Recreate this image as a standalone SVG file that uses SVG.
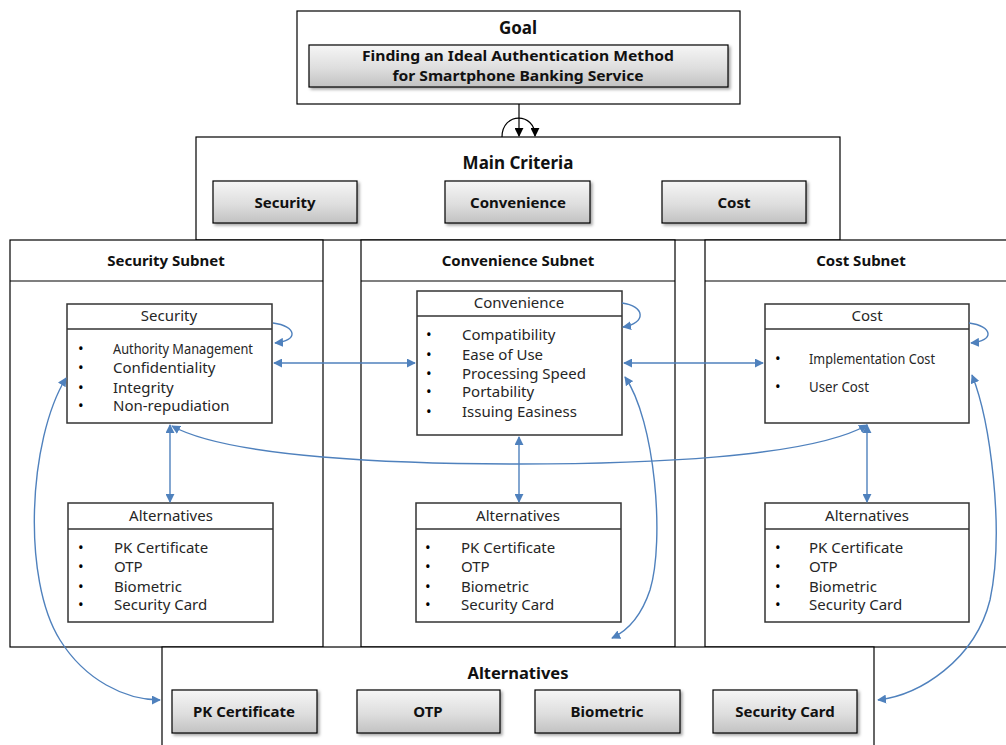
<svg xmlns="http://www.w3.org/2000/svg" width="1006" height="745" viewBox="0 0 1006 745">
<defs>
<linearGradient id="g" x1="0" y1="0" x2="0" y2="1">
<stop offset="0" stop-color="#f6f6f6"/><stop offset="0.55" stop-color="#dedede"/><stop offset="1" stop-color="#c2c2c2"/>
</linearGradient>
<filter id="sh" x="-10%" y="-10%" width="125%" height="140%">
<feDropShadow dx="2" dy="2" stdDeviation="1.5" flood-color="#000" flood-opacity="0.35"/>
</filter>
<marker id="ab" viewBox="0 0 10 10" refX="9" refY="5" markerWidth="9" markerHeight="9" markerUnits="userSpaceOnUse" orient="auto-start-reverse">
<path d="M0,0 L10,5 L0,10 z" fill="#4F81BD"/>
</marker>
<marker id="ak" viewBox="0 0 10 10" refX="9" refY="5" markerWidth="9" markerHeight="9" markerUnits="userSpaceOnUse" orient="auto">
<path d="M0,0 L10,5 L0,10 z" fill="#000"/>
</marker>
</defs>
<style>
.frame{fill:#fff;stroke:#000;stroke-width:1.2}
.gbox{fill:url(#g);stroke:#000;stroke-width:1.2;filter:url(#sh)}
.ibox{fill:#fff;stroke:#333;stroke-width:1.5}
.ln{stroke:#000;stroke-width:1.2}
.lns{stroke:#333;stroke-width:1.5}
.bt{font-family:"Noto Sans","Open Sans",sans-serif;font-weight:bold;fill:#111;text-anchor:middle}
.it{font-family:"Noto Sans","Open Sans",sans-serif;font-size:15px;fill:#262626}
.hd{font-family:"Noto Sans","Open Sans",sans-serif;font-size:15px;fill:#262626;text-anchor:middle}
.bl{font-family:"Noto Sans",sans-serif;font-size:15px;fill:#000}
.bc{fill:none;stroke:#4F81BD;stroke-width:1.4;marker-start:url(#ab);marker-end:url(#ab)}
.bc1{fill:none;stroke:#4F81BD;stroke-width:1.4;marker-end:url(#ab)}
.kc{fill:none;stroke:#000;stroke-width:1.2;marker-end:url(#ak)}
</style>

<g id="goal">
<rect class="frame" x="297" y="11" width="443" height="93"/>
<text class="bt" x="518" y="34" font-size="17">Goal</text>
<rect class="gbox" x="309" y="45" width="419" height="42"/>
<text class="bt" x="518" y="61" font-size="15" textLength="312" lengthAdjust="spacingAndGlyphs">Finding an Ideal Authentication  Method</text>
<text class="bt" x="518" y="81" font-size="15" textLength="251" lengthAdjust="spacingAndGlyphs">for Smartphone  Banking  Service</text>
</g>

<g id="main-criteria">
<rect class="frame" x="196" y="137" width="644" height="103"/>
<text class="bt" x="518" y="169" font-size="17">Main Criteria</text>
<rect class="gbox" x="213" y="181" width="144" height="42"/>
<text class="bt" x="285" y="208" font-size="15">Security</text>
<rect class="gbox" x="445" y="181" width="145" height="42"/>
<text class="bt" x="518" y="208" font-size="15">Convenience</text>
<rect class="gbox" x="662" y="181" width="144" height="42"/>
<text class="bt" x="734" y="208" font-size="15">Cost</text>
</g>

<g id="security-subnet">
<rect class="frame" x="10" y="240" width="313" height="407"/>
<line class="ln" x1="10" y1="281" x2="323" y2="281"/>
<text class="bt" x="166" y="266" font-size="15">Security  Subnet</text>
</g>
<g id="convenience-subnet">
<rect class="frame" x="361" y="240" width="314" height="407"/>
<line class="ln" x1="361" y1="281" x2="675" y2="281"/>
<text class="bt" x="518" y="266" font-size="15">Convenience  Subnet</text>
</g>
<g id="cost-subnet">
<rect class="frame" x="705" y="240" width="310" height="407"/>
<line class="ln" x1="705" y1="281" x2="1006" y2="281"/>
<text class="bt" x="861" y="266" font-size="15">Cost Subnet</text>
</g>

<g id="security-criteria">
<rect class="ibox" x="67" y="304" width="205" height="119"/>
<line class="lns" x1="67" y1="329" x2="272" y2="329"/>
<text class="hd" x="169" y="321">Security</text>
<text class="bl" x="78" y="354">•</text><text class="it" x="113" y="354" textLength="140" lengthAdjust="spacingAndGlyphs">Authority Management</text>
<text class="bl" x="78" y="373">•</text><text class="it" x="113" y="373">Confidentiality</text>
<text class="bl" x="78" y="393">•</text><text class="it" x="113" y="393">Integrity</text>
<text class="bl" x="78" y="411">•</text><text class="it" x="113" y="411">Non-repudiation</text>
</g>

<g id="convenience-criteria">
<rect class="ibox" x="417" y="291" width="205" height="144"/>
<line class="lns" x1="417" y1="316" x2="622" y2="316"/>
<text class="hd" x="519" y="308">Convenience</text>
<text class="bl" x="426" y="340">•</text><text class="it" x="462" y="340">Compatibility</text>
<text class="bl" x="426" y="360">•</text><text class="it" x="462" y="360">Ease of Use</text>
<text class="bl" x="426" y="379">•</text><text class="it" x="462" y="379">Processing Speed</text>
<text class="bl" x="426" y="397">•</text><text class="it" x="462" y="397">Portability</text>
<text class="bl" x="426" y="417">•</text><text class="it" x="462" y="417">Issuing Easiness</text>
</g>

<g id="cost-criteria">
<rect class="ibox" x="765" y="304" width="204" height="119"/>
<line class="lns" x1="765" y1="329" x2="969" y2="329"/>
<text class="hd" x="867" y="321">Cost</text>
<text class="bl" x="775" y="364">•</text><text class="it" x="809" y="364" textLength="126" lengthAdjust="spacingAndGlyphs">Implementation Cost</text>
<text class="bl" x="775" y="392">•</text><text class="it" x="809" y="392" textLength="60" lengthAdjust="spacingAndGlyphs">User Cost</text>
</g>

<g id="security-alternatives">
<rect class="ibox" x="68" y="503" width="205" height="119"/>
<line class="lns" x1="68" y1="529" x2="273" y2="529"/>
<text class="hd" x="171" y="521">Alternatives</text>
<text class="bl" x="78" y="553">•</text><text class="it" x="114" y="553">PK Certificate</text>
<text class="bl" x="78" y="572">•</text><text class="it" x="114" y="572">OTP</text>
<text class="bl" x="78" y="592">•</text><text class="it" x="114" y="592">Biometric</text>
<text class="bl" x="78" y="610">•</text><text class="it" x="114" y="610">Security Card</text>
</g>

<g id="convenience-alternatives">
<rect class="ibox" x="416" y="503" width="205" height="119"/>
<line class="lns" x1="416" y1="529" x2="621" y2="529"/>
<text class="hd" x="518" y="521">Alternatives</text>
<text class="bl" x="425" y="553">•</text><text class="it" x="461" y="553">PK Certificate</text>
<text class="bl" x="425" y="572">•</text><text class="it" x="461" y="572">OTP</text>
<text class="bl" x="425" y="592">•</text><text class="it" x="461" y="592">Biometric</text>
<text class="bl" x="425" y="610">•</text><text class="it" x="461" y="610">Security Card</text>
</g>

<g id="cost-alternatives">
<rect class="ibox" x="765" y="503" width="204" height="119"/>
<line class="lns" x1="765" y1="529" x2="969" y2="529"/>
<text class="hd" x="867" y="521">Alternatives</text>
<text class="bl" x="775" y="553">•</text><text class="it" x="809" y="553">PK Certificate</text>
<text class="bl" x="775" y="572">•</text><text class="it" x="809" y="572">OTP</text>
<text class="bl" x="775" y="592">•</text><text class="it" x="809" y="592">Biometric</text>
<text class="bl" x="775" y="610">•</text><text class="it" x="809" y="610">Security Card</text>
</g>

<g id="alternatives">
<rect class="frame" x="162" y="647" width="712" height="100"/>
<text class="bt" x="518" y="679" font-size="16.5">Alternatives</text>
<rect class="gbox" x="172" y="690" width="145" height="43"/>
<text class="bt" x="244" y="717" font-size="15">PK Certificate</text>
<rect class="gbox" x="357" y="690" width="143" height="43"/>
<text class="bt" x="428" y="717" font-size="15">OTP</text>
<rect class="gbox" x="535" y="690" width="145" height="43"/>
<text class="bt" x="607" y="717" font-size="15">Biometric</text>
<rect class="gbox" x="713" y="690" width="144" height="43"/>
<text class="bt" x="785" y="717" font-size="15">Security  Card</text>
</g>

<g id="connectors">
<line class="kc" x1="519" y1="104" x2="519" y2="136"/>
<path class="kc" d="M502,137 C502,112 535,112 535,136"/>
<line class="bc" x1="274" y1="363" x2="415" y2="363"/>
<line class="bc" x1="624" y1="363" x2="763" y2="363"/>
<line class="bc" x1="170" y1="425" x2="170" y2="502"/>
<line class="bc" x1="519" y1="437" x2="519" y2="502"/>
<line class="bc" x1="867" y1="425" x2="867" y2="502"/>
<path class="bc" d="M172,426 C230,458 400,464 519,464 C640,464 810,458 867,425"/>
<path class="bc" d="M66,378 C28,440 22,580 60,640 C85,680 125,700 160,700"/>
<path class="bc" d="M625,377 C655,420 665,540 650,590 C640,620 625,632 612,638"/>
<path class="bc" d="M972,375 C990,420 1005,530 990,600 C975,660 920,695 878,700"/>
<path class="bc1" d="M273,323 C297,326 299,341 275,343"/>
<path class="bc1" d="M622,303 C645,306 647,323 623,327"/>
<path class="bc1" d="M969,323 C993,326 995,341 971,343"/>
</g>
</svg>
